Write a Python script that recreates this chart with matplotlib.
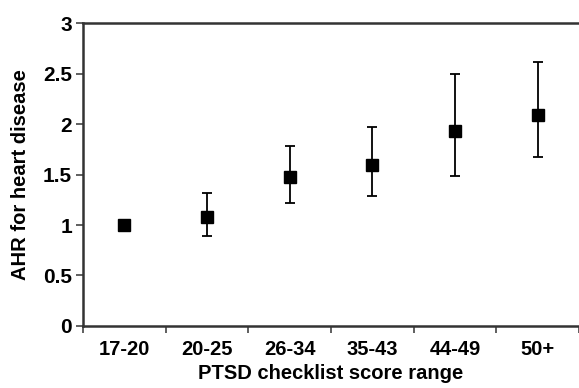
import numpy as np
import matplotlib.pyplot as plt

plt.rcParams['font.family'] = ['Liberation Sans', 'DejaVu Sans']
plt.rcParams['font.weight'] = 'bold'

# AHR by PTSD checklist score range
categories = ['17-20', '20-25', '26-34', '35-43', '44-49', '50+']
ahr = [1.0, 1.08, 1.48, 1.59, 1.93, 2.09]
ci_low = [1.0, 0.89, 1.22, 1.29, 1.49, 1.67]
ci_high = [1.0, 1.32, 1.78, 1.97, 2.50, 2.61]

x = np.arange(len(categories))
ahr = np.array(ahr)
yerr = [ahr - np.array(ci_low), np.array(ci_high) - ahr]

fig = plt.figure(figsize=(5.79, 3.88), dpi=100)
ax = fig.add_axes([0.1434, 0.1598, 0.8566, 0.7809])

# first point has no interval
ax.errorbar(x[1:], ahr[1:], yerr=[yerr[0][1:], yerr[1][1:]], fmt='none',
            ecolor='black', elinewidth=1.3, capsize=3.5, capthick=1.3)
ax.plot(x, ahr, 's', color='black', markersize=9, zorder=3)

ax.set_xlim(-0.5, len(categories) - 0.5)
ax.set_ylim(0, 3)
ax.set_yticks([0, 0.5, 1, 1.5, 2, 2.5, 3])
ax.set_yticklabels(['0', '0.5', '1', '1.5', '2', '2.5', '3'], fontweight='bold')

# ticks sit between categories, labels centered under points
ax.set_xticks(np.arange(len(categories) + 1) - 0.5)
ax.set_xticklabels([])
ax.set_xticks(x, minor=True)
ax.set_xticklabels(categories, minor=True, fontweight='bold')
ax.tick_params(axis='x', which='minor', length=0, pad=10, labelsize=14.5)
ax.tick_params(axis='x', which='major', length=5, width=1.2, color='#444444')
ax.tick_params(axis='y', length=5, width=1.2, color='#444444', labelsize=15, pad=3)

for s in ['left', 'bottom', 'top']:
    ax.spines[s].set_linewidth(1.8)
    ax.spines[s].set_color('#333333')
ax.spines['right'].set_visible(False)

ax.set_xlabel('PTSD checklist score range', fontsize=14.5, fontweight='bold', labelpad=4)
ax.set_ylabel('AHR for heart disease', fontsize=14.5, fontweight='bold', labelpad=9)

fig.savefig('out.png', dpi=100)
